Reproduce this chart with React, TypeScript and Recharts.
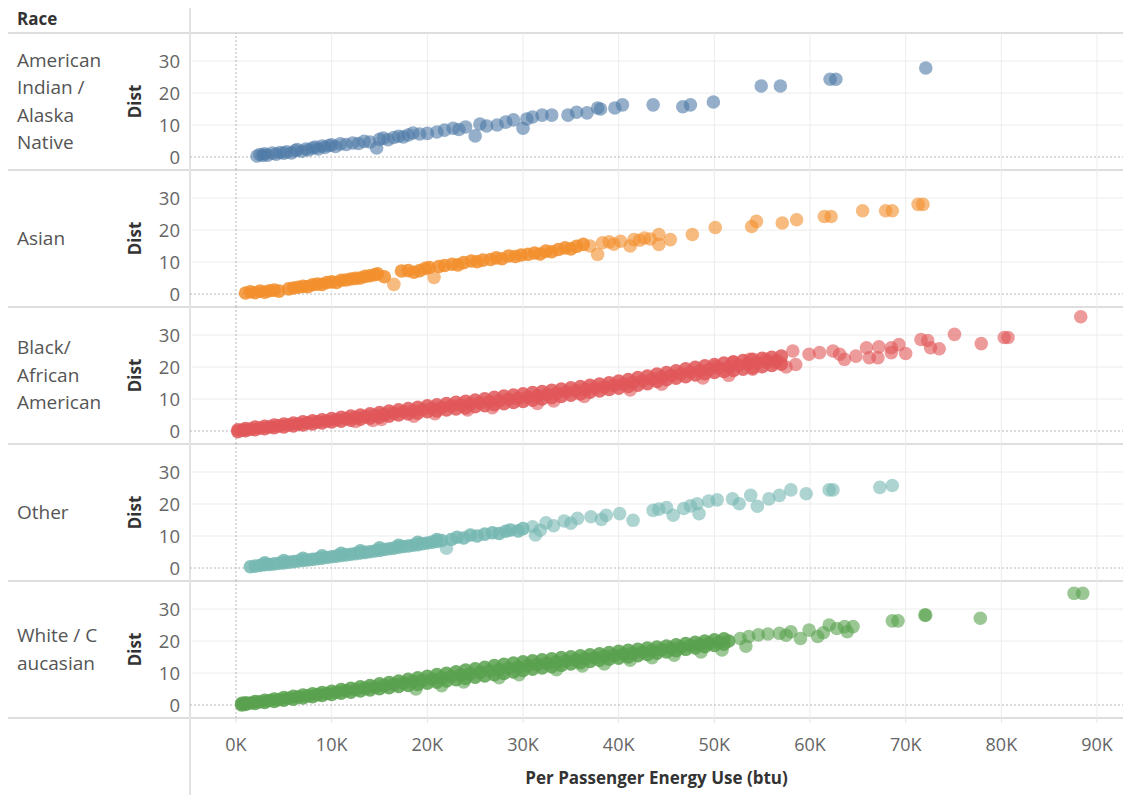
import React from 'react'
import { ScatterChart, Scatter, XAxis, YAxis, CartesianGrid, ReferenceLine, Label } from 'recharts'

// row headers (Tableau wraps them this way)
const raceNames: string[][] = [
  ['American', 'Indian /', 'Alaska', 'Native'],
  ['Asian'],
  ['Black/', 'African', 'American'],
  ['Other'],
  ['White / C', 'aucasian'],
]
const raceColors = ['#4e79a7', '#f28e2b', '#e15759', '#76b7b2', '#59a14f']

const xTicks = [0, 10000, 20000, 30000, 40000, 50000, 60000, 70000, 80000, 90000]
const yTicks = [0, 10, 20, 30]
const yGrid = [10, 20, 30]
const xGrid = [10000, 20000, 30000, 40000, 50000, 60000, 70000, 80000, 90000]

// [energy use in K btu, dist]
const americanIndian: [number, number][] = [
  [2.2, 0.3], [2.5, 0.8], [2.8, 0.5], [3.0, 1.0], [3.3, 0.6], [3.8, 1.2], [4.2, 0.9], [4.6, 1.4],
  [5.0, 1.2], [5.3, 1.6], [5.8, 1.3], [6.2, 2.0], [6.4, 2.3], [6.9, 1.8], [7.3, 2.5], [7.6, 2.2],
  [8.0, 2.8], [8.3, 3.1], [8.6, 2.5], [9.0, 3.4], [9.3, 3.0], [9.7, 3.6], [10.0, 3.8], [10.4, 3.3],
  [10.9, 4.1], [11.5, 3.9], [12.2, 4.4], [12.8, 4.2], [13.4, 4.9], [14.0, 4.7], [14.7, 2.8], [15.0, 5.5],
  [15.4, 5.9], [15.9, 5.4], [16.5, 6.1], [17.0, 6.5], [17.5, 6.3], [18.0, 6.9], [18.5, 7.5], [19.2, 7.2],
  [20.0, 7.4], [21.0, 7.8], [21.8, 8.4], [22.7, 9.0], [23.3, 8.6], [24.0, 9.4], [25.0, 6.6], [25.5, 10.3],
  [26.2, 9.7], [27.3, 10.0], [28.2, 10.9], [29.0, 11.6], [30.0, 9.0], [30.4, 11.9], [31.0, 12.5], [32.0, 13.1],
  [33.0, 13.1], [34.7, 13.1], [35.6, 14.0], [36.7, 13.8], [37.8, 15.3], [38.1, 15.0], [39.6, 15.3], [40.4, 16.3],
  [43.6, 16.3], [46.7, 15.7], [47.5, 16.3], [49.9, 17.2], [54.9, 22.2], [56.9, 22.2], [62.1, 24.3], [62.7, 24.3],
  [72.1, 27.8],
]

const asianCore: [number, number][] = [
  [1.0, 0.3], [1.5, 0.7], [2.0, 0.4], [2.5, 0.9], [3.0, 0.6], [3.5, 1.0], [4.0, 1.2], [4.5, 0.9],
  [5.5, 1.6], [6.0, 1.9], [6.5, 2.1], [7.0, 2.4], [7.5, 2.3], [8.0, 2.9], [8.5, 3.1], [9.0, 3.0],
  [9.5, 3.6], [10.0, 3.8], [10.5, 3.6], [11.0, 4.3], [11.5, 4.4], [12.0, 4.7], [12.5, 4.9], [13.0, 5.0],
  [13.5, 5.5], [14.0, 5.7], [14.5, 6.0], [14.8, 6.3], [15.5, 5.4], [17.3, 7.2], [18.0, 7.3],
  [18.6, 6.8], [19.2, 7.3], [19.8, 8.0], [20.2, 8.3], [21.2, 8.6], [21.8, 8.9], [22.6, 9.3],
  [23.2, 9.1], [23.8, 9.8], [24.6, 10.3], [25.2, 10.1], [25.8, 10.6], [26.6, 10.8], [27.2, 11.3], [27.8, 11.0],
  [28.5, 11.9], [29.2, 11.7], [29.8, 12.2], [30.5, 12.4], [31.2, 12.8], [31.8, 12.5], [32.4, 13.4], [33.0, 13.2],
  [33.7, 13.9], [34.4, 14.4], [35.0, 14.1], [35.6, 14.9], [36.3, 15.5],
]
const asianSparse: [number, number][] = [
  [16.5, 3.0], [20.7, 5.2], [37.0, 15.0], [37.8, 12.4], [38.3, 16.0],
  [39.0, 16.3], [39.5, 15.6], [40.2, 16.5], [41.2, 15.0], [41.6, 17.0], [42.2, 16.8], [42.7, 17.5], [43.3, 17.2],
  [44.2, 18.6], [44.2, 15.5], [45.4, 17.0], [47.7, 18.6], [50.1, 20.8], [53.9, 21.1], [54.4, 22.7], [57.1, 22.2],
  [58.6, 23.2], [61.5, 24.2], [62.2, 24.2], [65.5, 26.0], [67.9, 26.0], [68.6, 26.0], [71.3, 28.0], [71.8, 28.0],
]

// dense band: [K btu, lower edge of band, upper edge of band]
const blackBand: [number, number, number][] = [
  [0.2, -0.2, 0.4], [1, 0.1, 0.8], [2, 0.4, 1.2], [3, 0.7, 1.5], [4, 1.0, 1.9], [5, 1.3, 2.2],
  [6, 1.6, 2.5], [7, 1.9, 2.9], [8, 2.2, 3.2], [9, 2.5, 3.5], [10, 2.8, 3.9], [11, 3.1, 4.3],
  [12, 3.4, 4.7], [13, 3.7, 5.0], [14, 4.0, 5.4], [15, 4.3, 5.8], [16, 4.6, 6.2], [17, 5.0, 6.6],
  [18, 5.3, 7.0], [19, 5.6, 7.4], [20, 6.0, 7.9], [21, 6.3, 8.2], [22, 6.6, 8.6], [23, 6.9, 9.0],
  [24, 7.2, 9.3], [25, 7.6, 9.7], [26, 7.9, 10.1], [27, 8.2, 10.5], [28, 8.5, 10.9], [29, 8.9, 11.2],
  [30, 9.2, 11.6], [31, 9.6, 12.0], [32, 10.0, 12.3], [33, 10.4, 12.7], [34, 10.8, 13.1], [35, 11.2, 13.5],
  [36, 11.6, 13.9], [37, 12.1, 14.3], [38, 12.5, 14.7], [39, 13.0, 15.1], [40, 13.4, 15.6], [41, 13.9, 16.1],
  [42, 14.3, 16.7], [43, 14.8, 17.2], [44, 15.5, 17.8], [45, 16.0, 18.3], [46, 16.5, 18.8], [47, 17.0, 19.4],
  [48, 17.5, 19.9], [49, 17.9, 20.4], [50, 18.3, 20.8], [51, 18.6, 21.2], [52, 18.9, 21.6], [53, 19.3, 22.0],
  [54, 19.7, 22.4], [55, 20.1, 22.7], [56, 20.5, 23.0], [57, 20.9, 23.4],
]
// middle of the band, read between the columns above
const blackMid: [number, number][] = [
  [0.7, 0.3], [1.5, 0.6], [2.5, 0.95], [3.5, 1.25], [4.5, 1.6], [5.5, 1.9], [6.5, 2.2], [7.5, 2.55],
  [8.5, 2.85], [9.5, 3.15], [10.5, 3.5], [11.5, 3.85], [12.5, 4.2], [13.5, 4.5], [14.5, 4.9], [15.5, 5.2],
  [16.5, 5.6], [17.5, 6.0], [18.5, 6.3], [19.5, 6.7], [20.5, 7.1], [21.5, 7.4], [22.5, 7.8], [23.5, 8.1],
  [24.5, 8.5], [25.5, 8.8], [26.5, 9.2], [27.5, 9.5], [28.5, 9.9], [29.5, 10.2], [30.5, 10.6], [31.5, 11.0],
  [32.5, 11.4], [33.5, 11.8], [34.5, 12.2], [35.5, 12.6], [36.5, 13.0], [37.5, 13.4], [38.5, 13.8], [39.5, 14.3],
  [40.5, 14.7], [41.5, 15.2], [42.5, 15.7], [43.5, 16.3], [44.5, 16.9], [45.5, 17.4], [46.5, 17.9], [47.5, 18.4],
  [48.5, 18.9], [49.5, 19.3], [50.5, 19.7], [51.5, 20.1], [52.5, 20.5], [53.5, 20.9], [54.5, 21.3], [55.5, 21.6],
  [56.5, 22.0],
]
const blackScatter: [number, number][] = [
  [12.5, 3.0], [14.3, 3.3], [15.2, 3.6], [18.6, 4.6], [20.8, 5.4], [24.2, 6.6], [26.8, 7.3], [31.5, 8.6],
  [33.2, 9.4], [36.4, 10.8], [41.2, 12.8], [44.5, 14.6], [48.8, 16.6], [51.5, 17.4], [54.0, 19.3], [57.5, 20.0],
  [50.2, 20.3], [51.9, 21.4], [53.7, 22.4], [55.4, 22.4], [56.4, 21.4], [58.2, 25.0], [58.5, 20.8], [59.9, 24.0],
  [61.0, 24.5], [62.4, 25.0], [63.1, 24.0], [63.6, 22.4], [64.8, 23.4], [65.9, 26.0], [66.2, 22.9], [67.1, 22.9],
  [67.2, 26.3], [68.5, 26.0], [68.5, 24.5], [69.3, 27.0], [70.0, 24.2], [71.6, 28.6], [72.3, 28.3], [72.6, 26.0],
  [73.5, 25.7], [75.1, 30.2], [77.9, 27.3], [80.3, 29.2], [80.7, 29.2], [88.3, 35.7],
]

const otherCore: [number, number][] = [
  [1.5, 0.4], [2, 0.6], [2.5, 0.8], [3, 1.0], [3, 1.6], [3.5, 1.1], [4, 1.3], [4.5, 1.5], [5, 1.6], [5, 2.3],
  [5.5, 1.8], [6, 2.0], [6.5, 2.2], [7, 2.4], [7, 3.0], [7.5, 2.5], [8, 2.7], [8.5, 2.9], [9, 3.1], [9, 3.8],
  [9.5, 3.3], [10, 3.5], [10.5, 3.7], [11, 3.9], [11, 4.6], [11.5, 4.1], [12, 4.3], [12.5, 4.5], [13, 4.7],
  [13, 5.4], [13.5, 4.9], [14, 5.1], [14.5, 5.3], [15, 5.5], [15, 6.3], [15.5, 5.8], [16, 6.0], [16.5, 6.2],
  [17, 6.5], [17, 7.1], [17.5, 6.7], [18, 6.9], [18.5, 7.1], [19, 7.3], [19, 8.0], [19.5, 7.6], [20, 7.8],
  [20.5, 8.1], [21, 8.3], [21, 8.9], [21.5, 8.6], [22.5, 8.9], [23.1, 9.6], [23.8, 9.4], [24.5, 10.3],
  [25.2, 10.0], [26, 10.6], [26.8, 11.0], [27.5, 10.8], [28.2, 11.5], [28.7, 11.9], [29.5, 11.6], [30, 12.3],
]
const otherSparse: [number, number][] = [
  [22, 6.2], [31, 12.9], [31.3, 10.3], [31.8, 11.8], [32.4, 14.1], [33.2, 13.2], [34.3, 14.7], [35, 14.0], [35.7, 15.5],
  [37.1, 16.0], [38.2, 15.2], [38.7, 16.5], [40.1, 17.0], [41.5, 14.9], [43.6, 18.0], [44.2, 18.4], [45, 18.9],
  [45.7, 16.5], [46.8, 18.6], [47.5, 19.4], [48.2, 20.1], [48.4, 17.0], [49.4, 20.9], [50.3, 21.3], [51.9, 21.6],
  [52.6, 20.1], [53.8, 22.7], [54.5, 19.3], [55.7, 21.6], [56.8, 22.7], [58, 24.4], [59.6, 23.2], [62, 24.4],
  [62.4, 24.4], [67.3, 25.2], [68.6, 25.8],
]

const whiteBand: [number, number, number][] = [
  [0.6, 0.0, 0.5], [1, 0.2, 0.7], [2, 0.5, 1.1], [3, 0.8, 1.5], [4, 1.1, 1.9], [5, 1.5, 2.3],
  [6, 1.8, 2.7], [7, 2.2, 3.1], [8, 2.6, 3.5], [9, 3.0, 3.9], [10, 3.3, 4.3], [11, 3.7, 4.8],
  [12, 4.0, 5.2], [13, 4.4, 5.7], [14, 4.7, 6.1], [15, 5.1, 6.6], [16, 5.4, 7.0], [17, 5.8, 7.5],
  [18, 6.1, 8.0], [19, 6.4, 8.5], [20, 6.8, 9.0], [21, 7.1, 9.5], [22, 7.5, 9.9], [23, 7.9, 10.4],
  [24, 8.3, 10.9], [25, 8.7, 11.3], [26, 9.1, 11.8], [27, 9.5, 12.3], [28, 9.9, 12.7], [29, 10.3, 13.1],
  [30, 10.8, 13.5], [31, 11.2, 13.8], [32, 11.6, 14.1], [33, 12.0, 14.4], [34, 12.4, 14.8], [35, 12.8, 15.1],
  [36, 13.2, 15.4], [37, 13.6, 15.7], [38, 14.0, 16.0], [39, 14.3, 16.4], [40, 14.6, 16.8], [41, 15.0, 17.1],
  [42, 15.4, 17.4], [43, 15.8, 17.8], [44, 16.2, 18.1], [45, 16.6, 18.4], [46, 17.0, 18.8], [47, 17.4, 19.2],
  [48, 17.8, 19.6], [49, 18.2, 20.0], [50, 18.6, 20.4], [51, 19.0, 20.7],
]
const whiteMid: [number, number][] = [
  [1.5, 0.65], [2.5, 1.0], [3.5, 1.4], [4.5, 1.7], [5.5, 2.1], [6.5, 2.5], [7.5, 2.85], [8.5, 3.25],
  [9.5, 3.6], [10.5, 4.0], [11.5, 4.45], [12.5, 4.85], [13.5, 5.2], [14.5, 5.6], [15.5, 6.05], [16.5, 6.45],
  [17.5, 6.85], [18.5, 7.3], [19.5, 7.7], [20.5, 8.1], [21.5, 8.55], [22.5, 8.9], [23.5, 9.4], [24.5, 9.8],
  [25.5, 10.2], [26.5, 10.7], [27.5, 11.1], [28.5, 11.5], [29.5, 11.9], [30.5, 12.3], [31.5, 12.7], [32.5, 13.0],
  [33.5, 13.4], [34.5, 13.8], [35.5, 14.1], [36.5, 14.5], [37.5, 14.8], [38.5, 15.2], [39.5, 15.5], [40.5, 15.9],
  [41.5, 16.2], [42.5, 16.6], [43.5, 17.0], [44.5, 17.3], [45.5, 17.7], [46.5, 18.1], [47.5, 18.5], [48.5, 18.9],
  [49.5, 19.3], [50.5, 19.6], [51.5, 20.0],
]
const whiteScatter: [number, number][] = [
  [18.8, 5.0], [21.5, 6.0], [23.8, 7.2], [27.5, 8.5], [29.6, 9.5], [33.5, 11.0], [36.2, 12.2], [38.5, 12.8],
  [41.2, 14.0], [43.5, 14.8], [45.8, 15.6], [48.6, 16.6], [50.8, 17.2],
  [52.7, 20.8], [53.3, 18.4], [53.6, 21.4], [54.6, 21.9], [55.6, 22.2], [56.8, 22.4], [57.5, 21.8], [58.0, 22.9],
  [59.0, 20.8], [59.9, 23.4], [60.8, 21.4], [61.4, 22.6], [62.0, 25.0], [62.8, 23.9], [63.6, 24.5], [63.9, 22.9],
  [64.5, 24.5], [68.6, 26.3], [69.2, 26.3], [72.0, 28.1], [72.1, 28.1], [77.8, 27.1], [87.6, 34.9], [88.5, 34.9],
]

type Pt = { x: number; y: number }
const toPts = (pairs: [number, number][]): Pt[] => pairs.map(([x, y]) => ({ x: x * 1000, y }))
const bandPts = (band: [number, number, number][]): Pt[] =>
  band.flatMap(([x, lo, hi]) => [{ x: x * 1000, y: lo }, { x: x * 1000, y: hi }])

// dense (heavily overplotted) part and sparse part of every row
const coreData: Pt[][] = [
  [],
  toPts(asianCore),
  [...bandPts(blackBand), ...toPts(blackMid)],
  toPts(otherCore),
  [...bandPts(whiteBand), ...toPts(whiteMid)],
]
const sparseData: Pt[][] = [
  toPts(americanIndian),
  toPts(asianSparse),
  toPts(blackScatter),
  toPts(otherSparse),
  toPts(whiteScatter),
]

const TOP = 33
const ROW_H = 137
const AXIS_H = 77
const FONT = '"Open Sans", "Noto Sans", sans-serif'

const makeDot = (color: string, opacity: number) => (props: any) => (
  <circle cx={props.cx} cy={props.cy} r={6.8} fill={color} fillOpacity={opacity} />
)

const RaceRow: React.FC<{ index: number }> = ({ index }) => {
  const isLast = index === raceNames.length - 1
  const color = raceColors[index]
  return (
    <div style={{ position: 'absolute', left: 80, top: TOP + index * ROW_H }}>
      <ScatterChart
        width={1043}
        height={isLast ? ROW_H + AXIS_H : ROW_H}
        margin={{ top: 0, right: 0, bottom: 0, left: 0 }}
      >
        <CartesianGrid stroke='#ececec' horizontalValues={yGrid} verticalValues={xGrid} />
        <XAxis
          type='number'
          dataKey='x'
          domain={[-4808, 92715]}
          ticks={xTicks}
          allowDataOverflow
          hide={!isLast}
          height={isLast ? AXIS_H : 0}
          axisLine={false}
          tickLine={{ stroke: '#e4e4e4' }}
          tickSize={5}
          tickMargin={15}
          tick={{ fill: '#666', fontSize: 18 }}
          tickFormatter={(v) => `${v / 1000}K`}
        >
          {isLast && (
            <Label
              value='Per Passenger Energy Use (btu)'
              position='insideBottom'
              offset={11}
              fill='#333'
              fontSize={17}
              fontWeight='bold'
            />
          )}
        </XAxis>
        <YAxis
          type='number'
          dataKey='y'
          domain={[-4.06, 38.75]}
          ticks={yTicks}
          allowDataOverflow
          width={110}
          axisLine={false}
          tickLine={false}
          tickMargin={4}
          tick={{ fill: '#666', fontSize: 18.5 }}
        >
          <Label value='Dist' angle={-90} position='center' fill='#333' fontSize={17} fontWeight='bold' />
        </YAxis>
        <ReferenceLine x={0} stroke='#b8b8b8' strokeDasharray='2 2' />
        <ReferenceLine y={0} stroke='#b8b8b8' strokeDasharray='2 2' />
        <Scatter data={sparseData[index]} fill={color} shape={makeDot(color, 0.6)} isAnimationActive={false} />
        <Scatter data={coreData[index]} fill={color} shape={makeDot(color, 0.85)} isAnimationActive={false} />
      </ScatterChart>
    </div>
  )
}

const App: React.FC = () => {
  return (
    <div
      style={{
        position: 'absolute',
        left: 0,
        top: 0,
        width: 1123,
        height: 795,
        background: '#fff',
        fontFamily: FONT,
        overflow: 'hidden',
      }}
    >
      <div style={{ position: 'absolute', left: 17, top: 7, fontSize: 17, fontWeight: 'bold', color: '#333' }}>
        Race
      </div>
      {raceNames.map((lines, i) => (
        <div
          key={'lbl' + i}
          style={{
            position: 'absolute',
            left: 17,
            top: TOP + i * ROW_H,
            height: ROW_H,
            display: 'flex',
            flexDirection: 'column',
            justifyContent: 'center',
            fontSize: 19,
            lineHeight: '27.5px',
            color: '#555',
          }}
        >
          {lines.map((l) => (
            <div key={l}>{l}</div>
          ))}
        </div>
      ))}
      {[0, 1, 2, 3, 4, 5].map((i) => (
        <div
          key={'sep' + i}
          style={{
            position: 'absolute',
            left: 8,
            top: TOP + i * ROW_H - 1,
            width: 1115,
            height: 2,
            background: '#dedede',
          }}
        />
      ))}
      <div style={{ position: 'absolute', left: 189, top: 8, width: 2, height: 787, background: '#e2e2e2' }} />
      {raceNames.map((_, i) => (
        <RaceRow key={'row' + i} index={i} />
      ))}
    </div>
  )
}

export default App
